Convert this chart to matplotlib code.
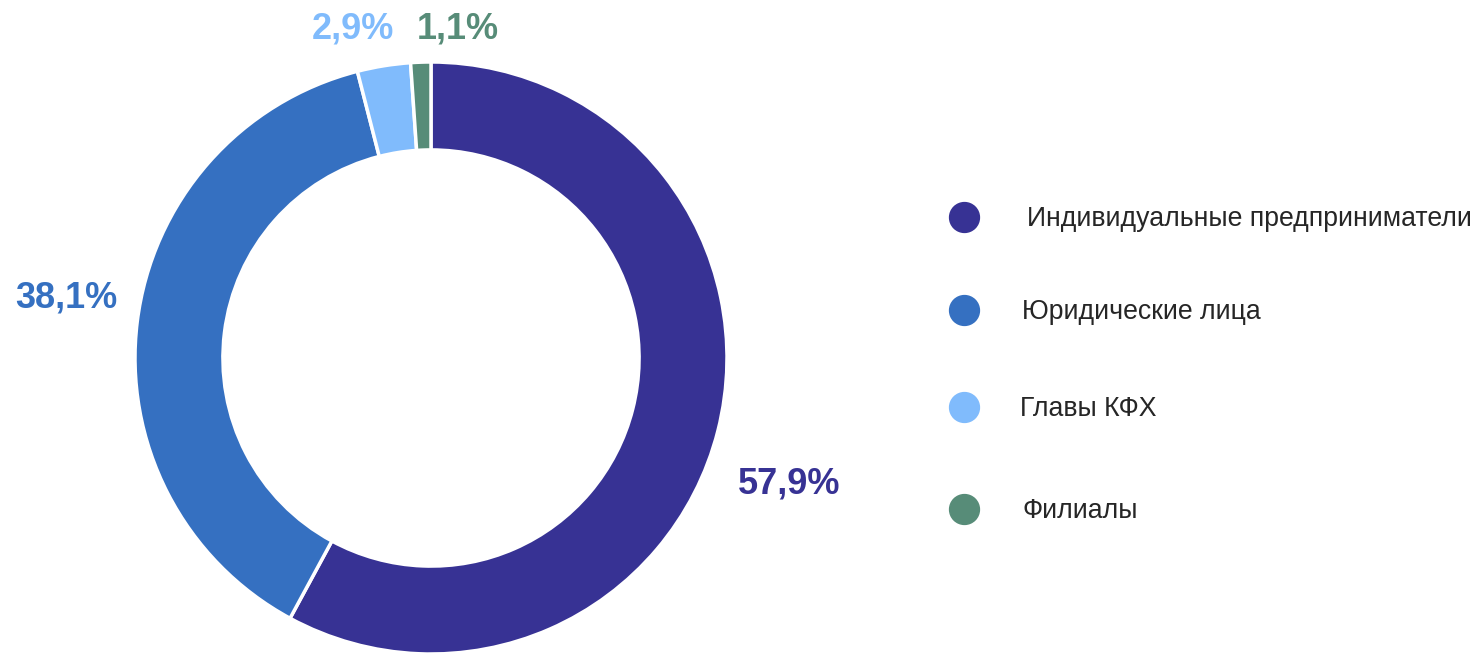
import matplotlib
matplotlib.use("Agg")
import matplotlib.pyplot as plt
from matplotlib.lines import Line2D

categories = ["Индивидуальные предприниматели", "Юридические лица", "Главы КФХ", "Филиалы"]
values = [57.9, 38.1, 2.9, 1.1]
value_labels = ["57,9%", "38,1%", "2,9%", "1,1%"]
colors = ["#373294", "#3570C1", "#80BBFC", "#578C78"]

# label positions (data units, radius = 1), baseline-anchored
label_pos = [(1.209, -0.459), (-1.231, 0.172), (-0.265, 1.078), (0.091, 1.078)]

plt.rcParams['font.family'] = ['Liberation Sans', 'DejaVu Sans']

W, H = 1476, 653
fig = plt.figure(figsize=(W / 100, H / 100), dpi=100)
cx, cy, R = 431, 358, 296
ax = fig.add_axes([(cx - R) / W, (H - cy - R) / H, 2 * R / W, 2 * R / H])
ax.pie(values, colors=colors, startangle=90, counterclock=False, radius=1,
       wedgeprops=dict(width=0.297, edgecolor="white", linewidth=2.5))
ax.set_xlim(-1, 1)
ax.set_ylim(-1, 1)
ax.set_aspect("equal")
ax.axis("off")

for (x, y), lab, c in zip(label_pos, value_labels, colors):
    ax.text(x, y, lab, color=c, fontsize=26, fontweight="bold",
            ha="center", va="baseline", clip_on=False)

# legend
leg_y = [217, 310, 407, 509]
leg_x = [1027, 1022, 1020, 1022]
for yy, xx, cat, c in zip(leg_y, leg_x, categories, colors):
    fig.add_artist(Line2D([964 / W], [1 - yy / H], marker="o", markersize=21.5,
                          color=c, linestyle="none", transform=fig.transFigure))
    fig.text(xx / W, 1 - (yy + 2) / H, cat, fontsize=19.2, color="#262626",
             ha="left", va="center")

fig.savefig("out.png", dpi=100)
